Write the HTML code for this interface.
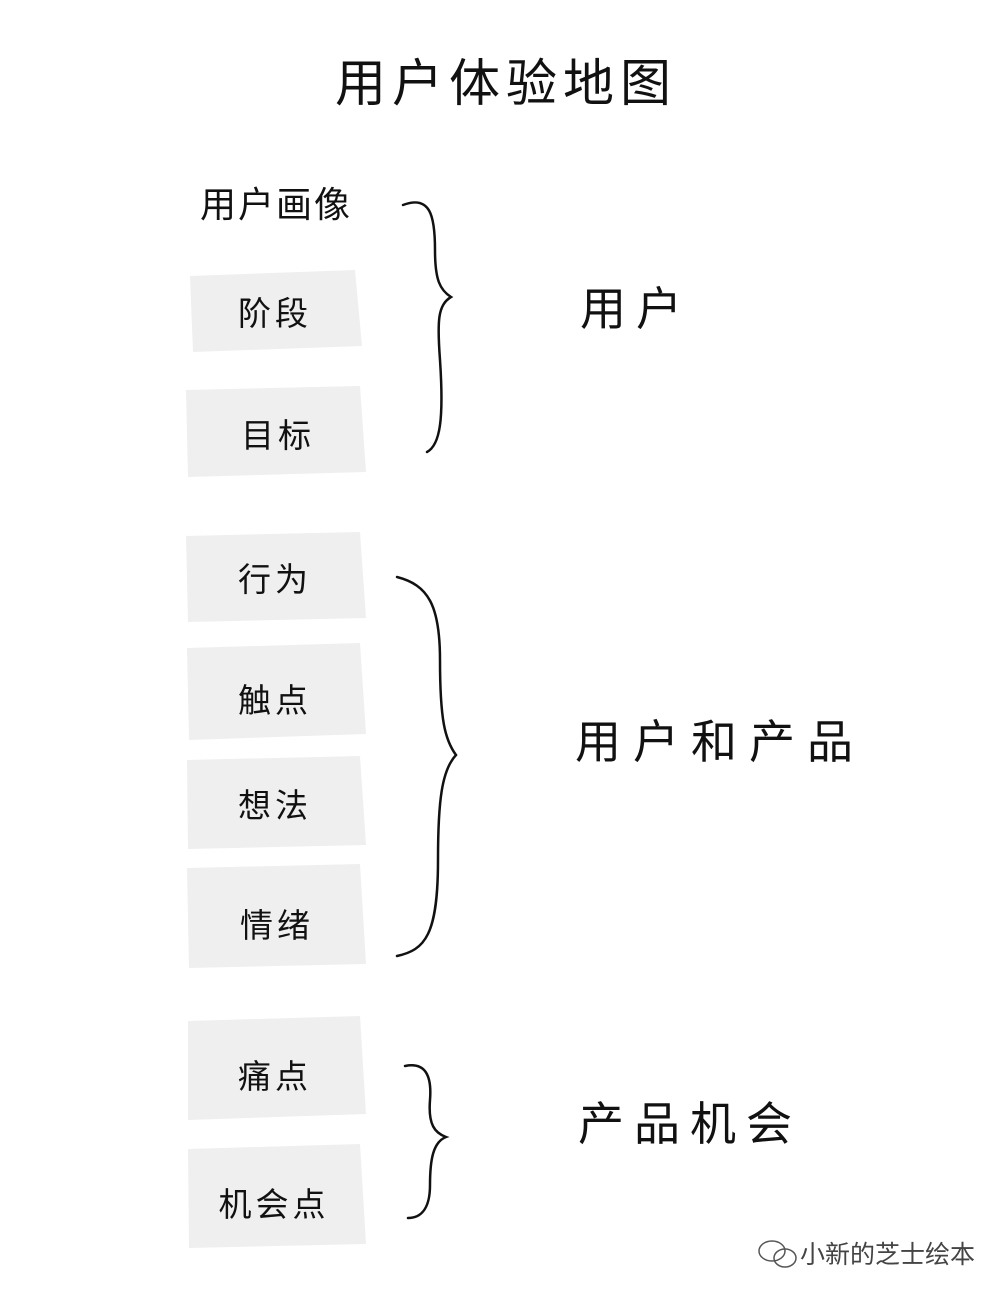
<!DOCTYPE html>
<html><head><meta charset="utf-8"><style>
html,body{margin:0;padding:0;background:#fff;}
body{width:1008px;height:1298px;position:relative;overflow:hidden;font-family:"Liberation Sans","Noto Sans CJK SC",sans-serif;}
svg{position:absolute;left:0;top:0;}
text{font-family:"Liberation Sans","Noto Sans CJK SC",sans-serif;fill:#111;}
</style></head><body>
<svg width="1008" height="1298" viewBox="0 0 1008 1298">
<g fill="#efefef">
<polygon points="190,276 355,270 362,346 193,352"/>
<polygon points="186,390 360,386 366,472 188,477"/>
<polygon points="186,536 360,532 366,618 188,622"/>
<polygon points="187,648 360,643 366,734 189,740"/>
<polygon points="187,760 360,756 366,845 188,849"/>
<polygon points="187,868 360,864 366,964 189,968"/>
<polygon points="188,1021 360,1016 366,1114 188,1120"/>
<polygon points="188,1149 360,1144 366,1244 189,1248"/>
</g>
<g fill="none" stroke="#111" stroke-width="2.5" stroke-linecap="round">
<path d="M403,205 C430,195 435,215 435,250 C435,280 440,290 451,297 C438,305 437,320 440,360 C444,420 440,445 427,452"/>
<path d="M397,577 C428,585 440,605 440,660 C440,720 445,740 456,755 C442,770 438,800 438,860 C438,935 425,950 397,956"/>
<path d="M405,1066 C425,1062 432,1075 430,1100 C428,1125 435,1133 446,1137 C433,1142 430,1160 430,1185 C430,1210 420,1218 408,1218"/>
</g>
<text x="506" y="101" font-size="51" text-anchor="middle" letter-spacing="6">用户体验地图</text>
<text x="200" y="217" font-size="36" letter-spacing="2">用户画像</text>
<text x="275" y="325" font-size="33" text-anchor="middle" letter-spacing="4">阶段</text>
<text x="278" y="447" font-size="33" text-anchor="middle" letter-spacing="4">目标</text>
<text x="275" y="591" font-size="33" text-anchor="middle" letter-spacing="4">行为</text>
<text x="275" y="712" font-size="33" text-anchor="middle" letter-spacing="4">触点</text>
<text x="275" y="817" font-size="33" text-anchor="middle" letter-spacing="4">想法</text>
<text x="277" y="937" font-size="33" text-anchor="middle" letter-spacing="4">情绪</text>
<text x="275" y="1088" font-size="33" text-anchor="middle" letter-spacing="4">痛点</text>
<text x="274" y="1216" font-size="33" text-anchor="middle" letter-spacing="4">机会点</text>
<text x="580" y="325" font-size="46" letter-spacing="10">用户</text>
<text x="575" y="758" font-size="46" letter-spacing="12">用户和产品</text>
<text x="578" y="1140" font-size="46" letter-spacing="10">产品机会</text>
<g fill="none" stroke="#555" stroke-width="1.5">
<ellipse cx="772" cy="1251" rx="13" ry="10"/>
<ellipse cx="785" cy="1258" rx="11" ry="9"/>
</g>
<text x="800" y="1263" font-size="25" style="fill:#444">小新的芝士绘本</text>
</svg>
</body></html>
